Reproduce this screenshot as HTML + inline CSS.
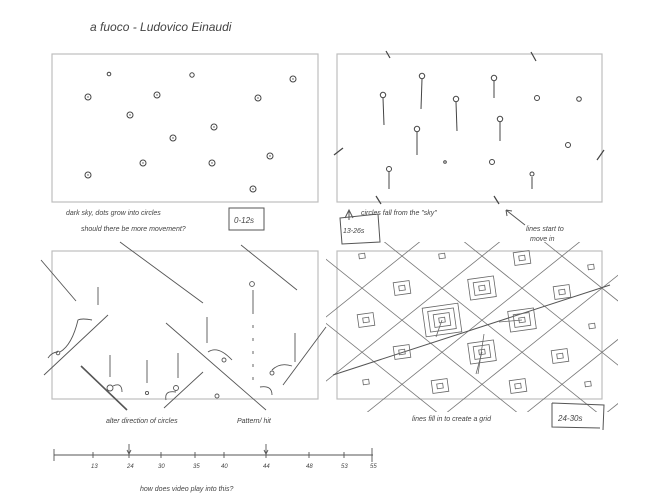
<!DOCTYPE html>
<html><head><meta charset="utf-8"><style>
html,body{margin:0;padding:0;background:#fff}
svg{display:block}
text{font-family:"Liberation Sans",sans-serif;font-style:italic;fill:#444}
</style></head><body>
<svg width="650" height="502" viewBox="0 0 650 502" xmlns="http://www.w3.org/2000/svg">
<defs><clipPath id="cg"><rect x="326" y="242" width="292" height="170"/></clipPath></defs>
<rect width="650" height="502" fill="#fff"/>
<text x="90" y="31" font-size="12">a fuoco - Ludovico Einaudi</text>
<g fill="none" stroke="#bdbdbd" stroke-width="1.2">
<rect x="52" y="54" width="266" height="148"/>
<rect x="337" y="54" width="265" height="148"/>
<rect x="52" y="251" width="266" height="148"/>
<rect x="337" y="251" width="265" height="148"/>
</g>

<!-- panel 1 dots -->
<g fill="none" stroke="#444" stroke-width="1">
<circle cx="109" cy="74" r="1.8"/><circle cx="192" cy="75" r="2.2"/><circle cx="293" cy="79" r="3"/>
<circle cx="88" cy="97" r="3"/><circle cx="157" cy="95" r="3"/><circle cx="258" cy="98" r="3"/>
<circle cx="130" cy="115" r="3"/><circle cx="214" cy="127" r="3"/><circle cx="173" cy="138" r="3"/>
<circle cx="270" cy="156" r="3"/><circle cx="143" cy="163" r="3"/><circle cx="212" cy="163" r="3"/>
<circle cx="88" cy="175" r="3"/><circle cx="253" cy="189" r="3"/>
</g>
<g fill="#444">
<circle cx="293" cy="79" r="0.7"/><circle cx="88" cy="97" r="0.7"/><circle cx="157" cy="95" r="0.7"/><circle cx="258" cy="98" r="0.7"/><circle cx="130" cy="115" r="0.7"/><circle cx="214" cy="127" r="0.7"/><circle cx="173" cy="138" r="0.7"/><circle cx="270" cy="156" r="0.7"/><circle cx="143" cy="163" r="0.7"/><circle cx="212" cy="163" r="0.7"/><circle cx="88" cy="175" r="0.7"/><circle cx="253" cy="189" r="0.7"/>
</g>

<!-- panel 2 -->
<g fill="none" stroke="#444" stroke-width="1">
<circle cx="422" cy="76" r="2.7"/><line x1="422" y1="79" x2="421" y2="109"/>
<circle cx="494" cy="78" r="2.7"/><line x1="494" y1="81" x2="494" y2="98"/>
<circle cx="383" cy="95" r="2.7"/><line x1="383" y1="98" x2="384" y2="125"/>
<circle cx="456" cy="99" r="2.7"/><line x1="456" y1="102" x2="457" y2="131"/>
<circle cx="537" cy="98" r="2.5"/><circle cx="579" cy="99" r="2.3"/>
<circle cx="417" cy="129" r="2.7"/><line x1="417" y1="132" x2="417" y2="155"/>
<circle cx="500" cy="119" r="2.7"/><line x1="500" y1="122" x2="500" y2="141"/>
<circle cx="568" cy="145" r="2.5"/><circle cx="445" cy="162" r="1.3"/><circle cx="492" cy="162" r="2.5"/>
<circle cx="389" cy="169" r="2.5"/><line x1="389" y1="172" x2="389" y2="189"/>
<circle cx="532" cy="174" r="2"/><line x1="532" y1="177" x2="532" y2="189"/>
<g stroke-width="1.2">
<line x1="386" y1="51" x2="390" y2="58"/><line x1="531" y1="52" x2="536" y2="61"/>
<line x1="334" y1="155" x2="343" y2="148"/><line x1="597" y1="160" x2="604" y2="150"/>
<line x1="376" y1="196" x2="381" y2="204"/><line x1="494" y1="196" x2="499" y2="204"/>
</g>
</g>

<!-- bottom-left -->
<g fill="none" stroke="#555" stroke-width="0.9">
<line x1="120" y1="242" x2="203" y2="303"/>
<line x1="241" y1="245" x2="297" y2="290"/>
<line x1="41" y1="260" x2="76" y2="301"/>
<line x1="108" y1="315" x2="44" y2="375"/>
<line x1="203" y1="372" x2="164" y2="408"/>
<line x1="166" y1="323" x2="266" y2="410"/>
<line x1="326" y1="327" x2="283" y2="385"/>
<line x1="81" y1="366" x2="127" y2="410" stroke-width="1.6"/>
<line x1="98" y1="287" x2="98" y2="305"/>
<line x1="207" y1="317" x2="207" y2="343"/>
<line x1="110" y1="355" x2="110" y2="377"/>
<line x1="147" y1="360" x2="147" y2="383"/>
<line x1="178" y1="353" x2="178" y2="378"/>
<line x1="295" y1="333" x2="295" y2="362"/>
<line x1="253" y1="290" x2="253" y2="314"/>
<line x1="253" y1="325" x2="253" y2="380" stroke-dasharray="3 10"/>
<circle cx="252" cy="284" r="2.4"/><circle cx="110" cy="388" r="3"/><circle cx="176" cy="388" r="2.5"/>
<circle cx="147" cy="393" r="1.6"/><circle cx="217" cy="396" r="2"/><circle cx="272" cy="373" r="2"/>
<circle cx="224" cy="360" r="2"/><circle cx="58" cy="353" r="1.8"/>
<path d="M113 386 Q122 382 122 392"/><path d="M176 392 Q164 390 166 400"/>
<path d="M208 352 Q218 345 232 360"/><path d="M272 370 Q280 362 292 366"/>
<path d="M260 387 Q272 385 272 395"/><path d="M60 352 Q72 345 78 320 Q82 318 92 320"/>
<path d="M48 358 Q52 352 58 352"/>
</g>

<!-- grid -->
<g clip-path="url(#cg)" stroke="#777" stroke-width="0.8">
<line x1="217" y1="236" x2="444" y2="418"/><line x1="297" y1="236" x2="524" y2="418"/>
<line x1="377" y1="236" x2="604" y2="418"/><line x1="457" y1="236" x2="684" y2="418"/>
<line x1="537" y1="236" x2="764" y2="418"/><line x1="617" y1="236" x2="844" y2="418"/>
<line x1="427" y1="236" x2="200" y2="418"/><line x1="507" y1="236" x2="280" y2="418"/>
<line x1="587" y1="236" x2="360" y2="418"/><line x1="667" y1="236" x2="440" y2="418"/>
<line x1="747" y1="236" x2="520" y2="418"/><line x1="827" y1="236" x2="600" y2="418"/>
<line x1="333" y1="375" x2="610" y2="285" stroke="#555" stroke-width="1"/>
</g>

<!-- squares -->
<g fill="none" stroke="#666" stroke-width="0.8">
<g transform="rotate(-8 362 256)"><rect x="359" y="253.6" width="6" height="4.8"/></g>
<g transform="rotate(-8 442 256)"><rect x="439" y="253.6" width="6" height="4.8"/></g>
<g transform="rotate(-8 522 258)"><rect x="519" y="255.6" width="6" height="4.8"/><rect x="514" y="251.6" width="16" height="12.8"/></g>
<g transform="rotate(-8 591 267)"><rect x="588" y="264.6" width="6" height="4.8"/></g>
<g transform="rotate(-8 402 288)"><rect x="399" y="285.6" width="6" height="4.8"/><rect x="394" y="281.6" width="16" height="12.8"/></g>
<g transform="rotate(-8 482 288)"><rect x="479" y="285.6" width="6" height="4.8"/><rect x="474" y="281.6" width="16" height="12.8"/><rect x="469" y="277.6" width="26" height="20.8"/></g>
<g transform="rotate(-8 562 292)"><rect x="559" y="289.6" width="6" height="4.8"/><rect x="554" y="285.6" width="16" height="12.8"/></g>
<g transform="rotate(-8 366 320)"><rect x="363" y="317.6" width="6" height="4.8"/><rect x="358" y="313.6" width="16" height="12.8"/></g>
<g transform="rotate(-8 442 320)"><rect x="439" y="317.6" width="6" height="4.8"/><rect x="434" y="313.6" width="16" height="12.8"/><rect x="429" y="309.6" width="26" height="20.8"/><rect x="424" y="305.6" width="36" height="28.8"/></g>
<g transform="rotate(-8 522 320)"><rect x="519" y="317.6" width="6" height="4.8"/><rect x="514" y="313.6" width="16" height="12.8"/><rect x="509" y="309.6" width="26" height="20.8"/></g>
<g transform="rotate(-8 592 326)"><rect x="589" y="323.6" width="6" height="4.8"/></g>
<g transform="rotate(-8 402 352)"><rect x="399" y="349.6" width="6" height="4.8"/><rect x="394" y="345.6" width="16" height="12.8"/></g>
<g transform="rotate(-8 482 352)"><rect x="479" y="349.6" width="6" height="4.8"/><rect x="474" y="345.6" width="16" height="12.8"/><rect x="469" y="341.6" width="26" height="20.8"/></g>
<g transform="rotate(-8 560 356)"><rect x="557" y="353.6" width="6" height="4.8"/><rect x="552" y="349.6" width="16" height="12.8"/></g>
<g transform="rotate(-8 366 382)"><rect x="363" y="379.6" width="6" height="4.8"/></g>
<g transform="rotate(-8 440 386)"><rect x="437" y="383.6" width="6" height="4.8"/><rect x="432" y="379.6" width="16" height="12.8"/></g>
<g transform="rotate(-8 518 386)"><rect x="515" y="383.6" width="6" height="4.8"/><rect x="510" y="379.6" width="16" height="12.8"/></g>
<g transform="rotate(-8 588 384)"><rect x="585" y="381.6" width="6" height="4.8"/></g>
<line x1="442" y1="320" x2="436" y2="337"/><line x1="482" y1="352" x2="476" y2="374"/>
<line x1="484" y1="334" x2="478" y2="374"/><line x1="522" y1="320" x2="499" y2="322"/>
</g>

<!-- timeline -->
<g fill="none" stroke="#555" stroke-width="0.9">
<line x1="54" y1="455" x2="373" y2="455"/>
<line x1="54" y1="449" x2="54" y2="461"/><line x1="93" y1="452" x2="93" y2="458"/>
<line x1="129" y1="452" x2="129" y2="458"/><line x1="161" y1="452" x2="161" y2="458"/>
<line x1="195" y1="452" x2="195" y2="458"/><line x1="224" y1="452" x2="224" y2="458"/>
<line x1="266" y1="452" x2="266" y2="458"/><line x1="309" y1="452" x2="309" y2="458"/>
<line x1="344" y1="452" x2="344" y2="458"/><line x1="372" y1="448" x2="372" y2="462"/>
<line x1="129" y1="444" x2="129" y2="453"/><line x1="266" y1="444" x2="266" y2="453"/>
<path d="M127 450 L129 454 L131 450 M264 450 L266 454 L268 450"/>
</g>
<g font-size="6">
<text x="91" y="468">13</text><text x="127" y="468">24</text><text x="158" y="468">30</text>
<text x="193" y="468">35</text><text x="221" y="468">40</text><text x="263" y="468">44</text>
<text x="306" y="468">48</text><text x="341" y="468">53</text><text x="370" y="468">55</text>
</g>

<g font-size="7">
<text x="66" y="215">dark sky, dots grow into circles</text>
<text x="81" y="231">should there be more movement?</text>
<text x="234" y="223" font-size="8">0-12s</text>
<text x="361" y="215">circles fall from the "sky"</text>
<text x="343" y="233">13-26s</text>
<text x="526" y="231">lines start to</text>
<text x="530" y="241">move in</text>
<text x="106" y="423">alter direction of circles</text>
<text x="237" y="423">Pattern/ hit</text>
<text x="412" y="421">lines fill in to create a grid</text>
<text x="558" y="421" font-size="8">24-30s</text>
<text x="140" y="491">how does video play into this?</text>
</g>
<g fill="none" stroke="#555" stroke-width="1">
<rect x="229" y="208" width="35" height="22"/>
<path d="M340 218 L378 214 L380 242 L342 244 Z"/>
<path d="M552 403 L604 405 L603 430 M552 403 L552 427 L600 428"/>
<path d="M345 218 L349 210 L353 218 M349 210 L349 220"/>
<path d="M506 210 L525 225 M506 210 L507 216 M506 210 L512 211"/>
</g>
</svg>
</body></html>
